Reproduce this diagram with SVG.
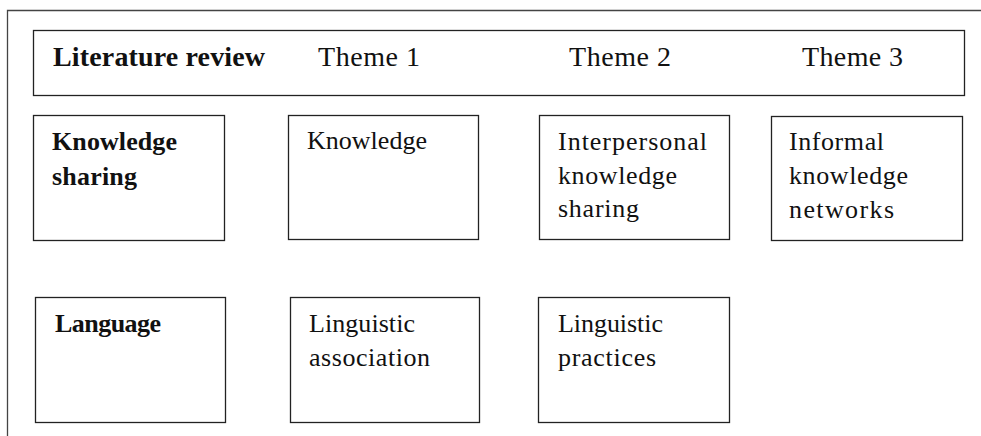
<svg xmlns="http://www.w3.org/2000/svg" width="981" height="436" viewBox="0 0 981 436">
<style>
.frame{fill:none;stroke:#444;stroke-width:1.3}
.box{fill:#fff;stroke:#222;stroke-width:1.3}
text{font-family:"Liberation Serif","Times New Roman",serif;fill:#111}
.h{font-size:28px}
.t{font-size:26px}
.b{font-weight:bold}
</style>
<rect width="981" height="436" fill="#fff"/>
<g id="frame">
<path class="frame" d="M7.5 436 V10.5 H981"/>
</g>
<g id="header">
<rect class="box" x="33.5" y="30.5" width="931" height="65"/>
<text class="h b" x="53" y="65.5" textLength="212" lengthAdjust="spacing">Literature review</text>
<text class="h" x="318" y="65.5" textLength="102" lengthAdjust="spacing">Theme 1</text>
<text class="h" x="569" y="65.5" textLength="102" lengthAdjust="spacing">Theme 2</text>
<text class="h" x="802" y="65.5" textLength="101" lengthAdjust="spacing">Theme 3</text>
</g>
<g id="knowledge-sharing">
<rect class="box" x="33.5" y="115.5" width="191" height="125"/>
<text class="t b" x="52" y="150" textLength="125" lengthAdjust="spacing">Knowledge</text>
<text class="t b" x="52" y="185" textLength="85" lengthAdjust="spacing">sharing</text>
</g>
<g id="knowledge">
<rect class="box" x="288.5" y="115.5" width="190" height="124"/>
<text class="t" x="307" y="149" textLength="120" lengthAdjust="spacing">Knowledge</text>
</g>
<g id="interpersonal">
<rect class="box" x="539.5" y="115.5" width="190" height="124"/>
<text class="t" x="558" y="150" textLength="149" lengthAdjust="spacing">Interpersonal</text>
<text class="t" x="558" y="183.5" textLength="119" lengthAdjust="spacing">knowledge</text>
<text class="t" x="558" y="217" textLength="81" lengthAdjust="spacing">sharing</text>
</g>
<g id="informal">
<rect class="box" x="771.5" y="116.5" width="191" height="124"/>
<text class="t" x="789" y="150" textLength="95" lengthAdjust="spacing">Informal</text>
<text class="t" x="789" y="184" textLength="119" lengthAdjust="spacing">knowledge</text>
<text class="t" x="789" y="218" textLength="105" lengthAdjust="spacing">networks</text>
</g>
<g id="language">
<rect class="box" x="35.5" y="297.5" width="190" height="125"/>
<text class="t b" x="55" y="332" textLength="106" lengthAdjust="spacing">Language</text>
</g>
<g id="linguistic-association">
<rect class="box" x="290.5" y="297.5" width="189" height="125"/>
<text class="t" x="309" y="332" textLength="106" lengthAdjust="spacing">Linguistic</text>
<text class="t" x="309" y="366" textLength="121" lengthAdjust="spacing">association</text>
</g>
<g id="linguistic-practices">
<rect class="box" x="538.5" y="297.5" width="191" height="125"/>
<text class="t" x="558" y="332" textLength="105" lengthAdjust="spacing">Linguistic</text>
<text class="t" x="558" y="366" textLength="98" lengthAdjust="spacing">practices</text>
</g>
<g id="connectors"></g>
</svg>
